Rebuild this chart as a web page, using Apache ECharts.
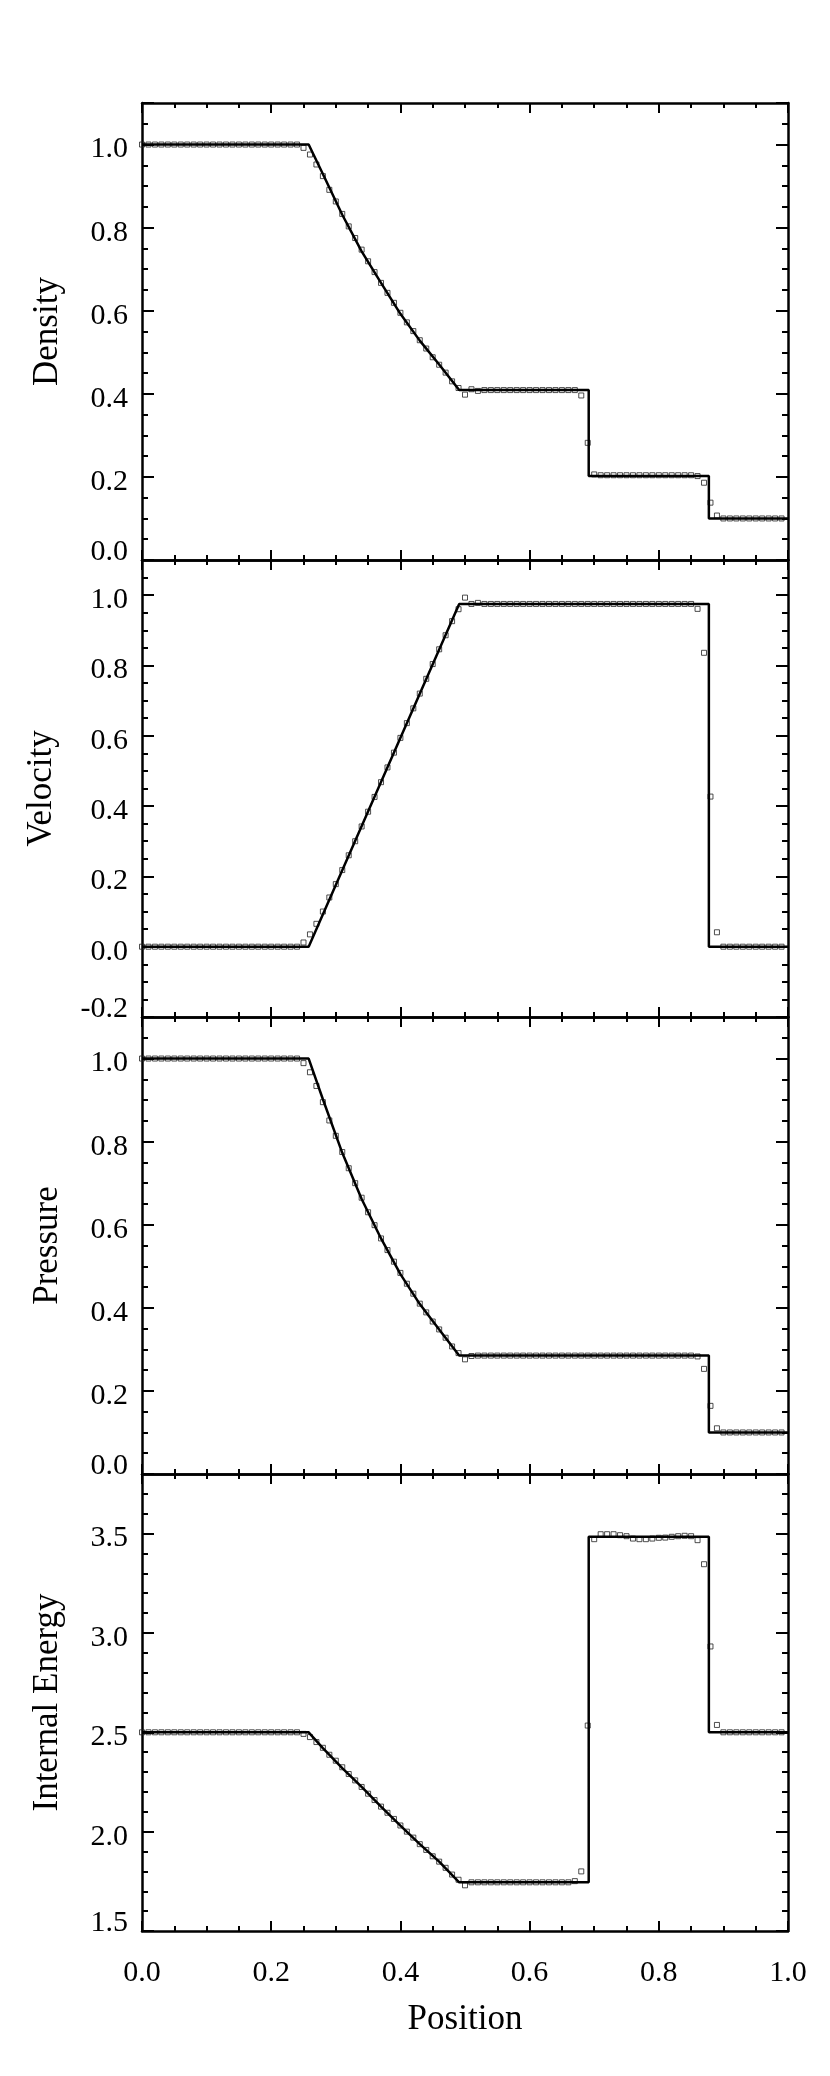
<!DOCTYPE html>
<html>
<head>
<meta charset="utf-8">
<title>Shock tube profiles</title>
<script src="https://cdn.jsdelivr.net/npm/echarts@6.0.0/dist/echarts.min.js"></script>
<style>
  html, body { margin: 0; padding: 0; background: #fff; }
  #chart { width: 830px; height: 2076px; }
</style>
</head>
<body>
<div id="chart"></div>
<script>
// positions of the simulated points (squares)
const posX = [
  0.00, 0.01, 0.02, 0.03, 0.04, 0.05, 0.06, 0.07, 0.08, 0.09,
  0.10, 0.11, 0.12, 0.13, 0.14, 0.15, 0.16, 0.17, 0.18, 0.19,
  0.20, 0.21, 0.22, 0.23, 0.24, 0.25, 0.26, 0.27, 0.28, 0.29,
  0.30, 0.31, 0.32, 0.33, 0.34, 0.35, 0.36, 0.37, 0.38, 0.39,
  0.40, 0.41, 0.42, 0.43, 0.44, 0.45, 0.46, 0.47, 0.48, 0.49,
  0.50, 0.51, 0.52, 0.53, 0.54, 0.55, 0.56, 0.57, 0.58, 0.59,
  0.60, 0.61, 0.62, 0.63, 0.64, 0.65, 0.66, 0.67, 0.68, 0.69,
  0.70, 0.71, 0.72, 0.73, 0.74, 0.75, 0.76, 0.77, 0.78, 0.79,
  0.80, 0.81, 0.82, 0.83, 0.84, 0.85, 0.86, 0.87, 0.88, 0.89,
  0.90, 0.91, 0.92, 0.93, 0.94, 0.95, 0.96, 0.97, 0.98, 0.99
]

// simulated values, one per position
const denPts = [
  1.0, 1.0, 1.0, 1.0, 1.0, 1.0, 1.0, 1.0, 1.0, 1.0,
  1.0, 1.0, 1.0, 1.0, 1.0, 1.0, 1.0, 1.0, 1.0, 1.0,
  1.0, 1.0, 1.0, 1.0, 1.0, 0.992, 0.976, 0.952, 0.924, 0.891,
  0.863, 0.833, 0.803, 0.775, 0.747, 0.719, 0.693, 0.667, 0.643, 0.619,
  0.595, 0.572, 0.551, 0.529, 0.509, 0.488, 0.470, 0.451, 0.430, 0.414,
  0.398, 0.411, 0.407, 0.409, 0.409, 0.409, 0.409, 0.409, 0.409, 0.409,
  0.409, 0.409, 0.409, 0.409, 0.409, 0.409, 0.409, 0.409, 0.396, 0.282,
  0.206, 0.204, 0.204, 0.204, 0.204, 0.204, 0.204, 0.204, 0.204, 0.204,
  0.204, 0.204, 0.204, 0.204, 0.204, 0.204, 0.202, 0.186, 0.138, 0.107,
  0.1, 0.1, 0.1, 0.1, 0.1, 0.1, 0.1, 0.1, 0.1, 0.1
]
const velPts = [
  0.0, 0.0, 0.0, 0.0, 0.0, 0.0, 0.0, 0.0, 0.0, 0.0,
  0.0, 0.0, 0.0, 0.0, 0.0, 0.0, 0.0, 0.0, 0.0, 0.0,
  0.0, 0.0, 0.0, 0.0, 0.0, 0.012, 0.035, 0.065, 0.100, 0.140,
  0.178, 0.218, 0.260, 0.300, 0.342, 0.384, 0.426, 0.468, 0.510, 0.552,
  0.594, 0.636, 0.678, 0.720, 0.762, 0.804, 0.846, 0.886, 0.926, 0.960,
  0.993, 0.975, 0.978, 0.975, 0.975, 0.975, 0.975, 0.975, 0.975, 0.975,
  0.975, 0.975, 0.975, 0.975, 0.975, 0.975, 0.975, 0.975, 0.975, 0.975,
  0.975, 0.975, 0.975, 0.975, 0.975, 0.975, 0.975, 0.975, 0.975, 0.975,
  0.975, 0.975, 0.975, 0.975, 0.975, 0.975, 0.961, 0.836, 0.427, 0.041,
  0.0, 0.0, 0.0, 0.0, 0.0, 0.0, 0.0, 0.0, 0.0, 0.0
]
const prePts = [
  1.0, 1.0, 1.0, 1.0, 1.0, 1.0, 1.0, 1.0, 1.0, 1.0,
  1.0, 1.0, 1.0, 1.0, 1.0, 1.0, 1.0, 1.0, 1.0, 1.0,
  1.0, 1.0, 1.0, 1.0, 1.0, 0.989, 0.967, 0.934, 0.895, 0.851,
  0.814, 0.775, 0.736, 0.700, 0.665, 0.630, 0.599, 0.567, 0.539, 0.511,
  0.484, 0.458, 0.434, 0.410, 0.389, 0.367, 0.348, 0.328, 0.307, 0.291,
  0.276, 0.284, 0.285, 0.285, 0.285, 0.285, 0.285, 0.285, 0.285, 0.285,
  0.285, 0.285, 0.285, 0.285, 0.285, 0.285, 0.285, 0.285, 0.285, 0.285,
  0.285, 0.285, 0.285, 0.285, 0.285, 0.285, 0.285, 0.285, 0.285, 0.285,
  0.285, 0.285, 0.285, 0.285, 0.285, 0.285, 0.283, 0.253, 0.164, 0.110,
  0.1, 0.1, 0.1, 0.1, 0.1, 0.1, 0.1, 0.1, 0.1, 0.1
]
const engPts = [
  2.5, 2.5, 2.5, 2.5, 2.5, 2.5, 2.5, 2.5, 2.5, 2.5,
  2.5, 2.5, 2.5, 2.5, 2.5, 2.5, 2.5, 2.5, 2.5, 2.5,
  2.5, 2.5, 2.5, 2.5, 2.5, 2.492, 2.476, 2.451, 2.422, 2.387,
  2.357, 2.324, 2.290, 2.258, 2.225, 2.191, 2.159, 2.126, 2.095, 2.064,
  2.031, 2.000, 1.970, 1.937, 1.908, 1.876, 1.849, 1.818, 1.784, 1.758,
  1.730, 1.745, 1.745, 1.745, 1.745, 1.745, 1.745, 1.745, 1.745, 1.745,
  1.745, 1.745, 1.745, 1.745, 1.745, 1.745, 1.745, 1.751, 1.800, 2.534,
  3.472, 3.497, 3.497, 3.497, 3.492, 3.487, 3.475, 3.472, 3.472, 3.475,
  3.479, 3.480, 3.484, 3.487, 3.489, 3.487, 3.467, 3.346, 2.932, 2.537,
  2.5, 2.5, 2.5, 2.5, 2.5, 2.5, 2.5, 2.5, 2.5, 2.5
]

// exact solution (solid line), breakpoints
const denLineX = [0, 0.258, 0.28, 0.31, 0.34, 0.37, 0.40, 0.43, 0.46, 0.491, 0.6915, 0.6915, 0.8775, 0.8775, 1.0]
const denLineY = [1.0, 1.0, 0.929, 0.831, 0.743, 0.667, 0.5925, 0.528, 0.4706, 0.409, 0.409, 0.202, 0.202, 0.1, 0.1]
const velLineX = [0, 0.258, 0.491, 0.8775, 0.8775, 1.0]
const velLineY = [0.0, 0.0, 0.975, 0.975, 0.0, 0.0]
const preLineX = [0, 0.258, 0.28, 0.31, 0.34, 0.37, 0.40, 0.43, 0.46, 0.491, 0.8775, 0.8775, 1.0]
const preLineY = [1.0, 1.0, 0.902, 0.773, 0.662, 0.567, 0.481, 0.409, 0.348, 0.285, 0.285, 0.1, 0.1]
const engLineX = [0, 0.258, 0.28, 0.31, 0.34, 0.37, 0.40, 0.43, 0.46, 0.491, 0.6915, 0.6915, 0.8775, 0.8775, 1.0]
const engLineY = [2.5, 2.5, 2.42, 2.32, 2.225, 2.126, 2.03, 1.937, 1.849, 1.745, 1.745, 3.484, 3.484, 2.5, 2.5]

// axis ranges and tick steps
const yNames = ['Density', 'Velocity', 'Pressure', 'Internal Energy']
const yMin = [0, -0.2, 0, 1.5]
const yMax = [1.1, 1.1, 1.1, 3.8]
const yMajor = [0.2, 0.2, 0.2, 0.5]
const yMinor = [0.05, 0.05, 0.05, 0.1]
const xTicks = { min: 0, max: 1, major: 0.2, minor: 0.05 }

const FONT = 'Liberation Serif'
const tops = [103, 560, 1017, 1474]
const panelH = 457
const nameGaps = [77, 83, 77, 77]

// onZero off, otherwise the frame jumps to the zero line
const frame = { show: true, onZero: false, lineStyle: { color: '#000', width: 2.5 } }
const noLine = { show: false, onZero: false }
const noTick = { show: false }
function tick(len) {
  return { show: true, inside: true, length: len, lineStyle: { color: '#000', width: 2 } }
}
const labelFont = { color: '#000', fontFamily: FONT, fontSize: 30 }
function isStep(v, step) {
  const k = v / step
  return Math.abs(k - Math.round(k)) < 1e-6
}
// y labels sit a little below their tick: an empty first line pushes them down
function fmtY(step, bottom) {
  return v => (isStep(v, step) && Math.abs(v - bottom) > 1e-9 ? '\n' + v.toFixed(1) : '')
}
// the bottom label is lifted above the panel edge: an empty last line pushes it up
function fmtBottom(bottom) {
  return v => (Math.abs(v - bottom) < 1e-9 ? v.toFixed(1) + '\n' : '')
}

const grids = [], xAxes = [], yAxes = [], series = []
const pts = [denPts, velPts, prePts, engPts]
const lineX = [denLineX, velLineX, preLineX, engLineX]
const lineY = [denLineY, velLineY, preLineY, engLineY]

for (let g = 0; g < 4; g++) {
  const last = g === 3
  grids.push({ left: 142, right: 42, top: tops[g], height: panelH })

  // x: bottom major, bottom minor, top major, top minor
  const xb = { gridIndex: g, type: 'value', min: xTicks.min, max: xTicks.max, splitLine: { show: false } }
  xAxes.push({
    ...xb, position: 'bottom', interval: xTicks.major, axisLine: frame, axisTick: tick(10),
    axisLabel: last
      ? { show: true, margin: 27, ...labelFont, formatter: v => (isStep(v, xTicks.major) ? v.toFixed(1) : '') }
      : { show: false },
    name: last ? 'Position' : '', nameLocation: 'middle', nameGap: 71,
    nameTextStyle: { color: '#000', fontFamily: FONT, fontSize: 35 }
  })
  xAxes.push({ ...xb, position: 'bottom', interval: xTicks.minor, axisLine: noLine, axisTick: tick(5), axisLabel: { show: false } })
  xAxes.push({ ...xb, position: 'top', interval: xTicks.major, axisLine: frame, axisTick: tick(10), axisLabel: { show: false } })
  xAxes.push({ ...xb, position: 'top', interval: xTicks.minor, axisLine: noLine, axisTick: tick(5), axisLabel: { show: false } })

  // y: left major, left minor, right major, right minor, bottom label
  const yb = { gridIndex: g, type: 'value', min: yMin[g], max: yMax[g], splitLine: { show: false } }
  yAxes.push({
    ...yb, position: 'left', interval: yMajor[g], axisLine: frame, axisTick: tick(12),
    axisLabel: { show: true, margin: 14, lineHeight: 10, ...labelFont, formatter: fmtY(yMajor[g], yMin[g]) },
    name: yNames[g], nameLocation: 'middle', nameGap: nameGaps[g],
    nameTextStyle: { color: '#000', fontFamily: FONT, fontSize: 35 }
  })
  yAxes.push({ ...yb, position: 'left', interval: yMinor[g], axisLine: noLine, axisTick: tick(6), axisLabel: { show: false } })
  yAxes.push({ ...yb, position: 'right', interval: yMajor[g], axisLine: frame, axisTick: tick(12), axisLabel: { show: false } })
  yAxes.push({ ...yb, position: 'right', interval: yMinor[g], axisLine: noLine, axisTick: tick(6), axisLabel: { show: false } })
  yAxes.push({
    ...yb, position: 'left', interval: yMajor[g], axisLine: noLine, axisTick: noTick,
    axisLabel: { show: true, margin: 14, lineHeight: 16, ...labelFont, formatter: fmtBottom(yMin[g]) }
  })

  // squares
  series.push({
    type: 'scatter', xAxisIndex: g * 4, yAxisIndex: g * 5,
    data: posX.map((x, i) => [x, pts[g][i]]),
    symbol: 'rect', symbolSize: 5, z: 2,
    itemStyle: { color: 'rgba(0,0,0,0)', borderColor: '#222', borderWidth: 1 }
  })
  // exact solution
  series.push({
    type: 'line', xAxisIndex: g * 4, yAxisIndex: g * 5,
    data: lineX[g].map((x, i) => [x, lineY[g][i]]),
    showSymbol: false, z: 3,
    lineStyle: { color: '#000', width: 2.5 }
  })
}

const myChart = echarts.init(document.getElementById('chart'))
myChart.setOption({
  animation: false,
  backgroundColor: '#fff',
  grid: grids,
  xAxis: xAxes,
  yAxis: yAxes,
  series: series
})
</script>
</body>
</html>
